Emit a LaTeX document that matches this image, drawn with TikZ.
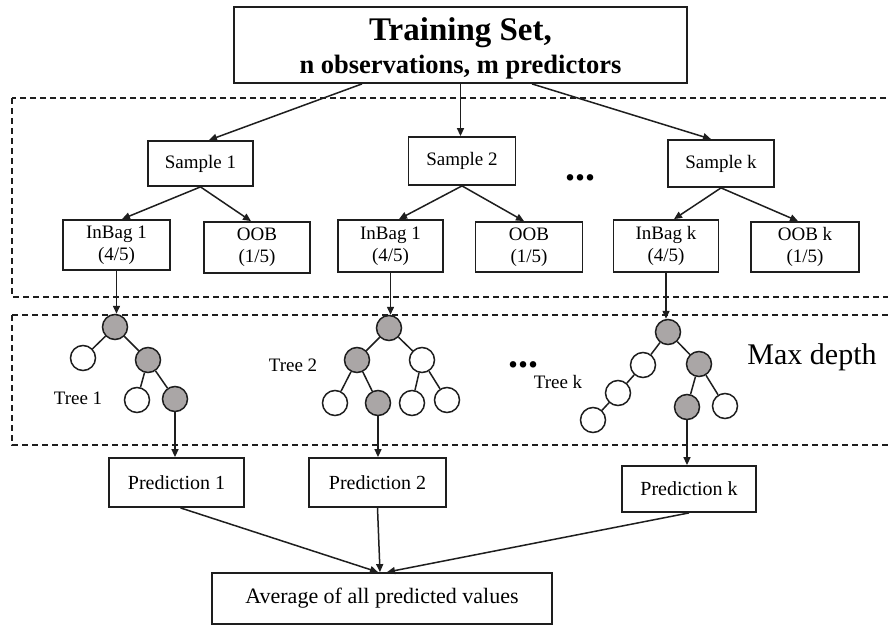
\documentclass[tikz,border=0pt]{standalone}
\usepackage{fontspec}
\setmainfont{Liberation Serif}
\usetikzlibrary{arrows.meta}
\definecolor{nodegray}{RGB}{170,166,166}
\definecolor{ink}{RGB}{30,30,30}
\begin{document}
\begin{tikzpicture}[x=1pt,y=-1pt,
  box/.style={draw=ink, line width=1.8pt, inner sep=0pt, align=center, font=\fontsize{19}{22}\selectfont},
  arr/.style={draw=ink, line width=1.5pt, -{Triangle[length=8pt,width=7pt]}},
  leaf/.style={circle, draw=ink, line width=1.5pt, minimum size=25pt, inner sep=0pt, fill=white},
  inner/.style={leaf, fill=nodegray},
  link/.style={draw=ink, line width=1.5pt},
  region/.style={draw=ink, dash pattern=on 6pt off 4pt, line width=1.5pt},
  lbl/.style={inner sep=0pt, font=\fontsize{19}{22}\selectfont},
  dots/.style={inner sep=0pt, anchor=base, font=\fontsize{40}{40}\selectfont\bfseries}]
\useasboundingbox (0,0) rectangle (888,626);
\fill[white] (0,0) rectangle (888,626);

% dashed regions
\draw[region] (12,98) rectangle (900,297);
\draw[region] (12,315) rectangle (900,445);

% training set
\node[box, minimum width=453pt, minimum height=76pt, font=\fontsize{26.5}{33}\selectfont\bfseries] (train) at (460.5,45)
  {\rule{0pt}{30pt}{\fontsize{33}{33}\selectfont Training Set,}\\n observations, m predictors};

% samples
\node[box, minimum width=105pt, minimum height=45pt] (s1) at (200.5,163.5) {Sample 1};
\node[box, minimum width=107pt, minimum height=48pt] (s2) at (462,161) {Sample 2};
\node[box, minimum width=106pt, minimum height=47pt] (sk) at (721,163.5) {Sample k};
\node[dots] (d1) at (580,180) {...};

% in-bag / oob
\node[box, minimum width=107pt, minimum height=50pt] (ib1) at (116.5,245) {InBag 1\\(4/5)};
\node[box, minimum width=106pt, minimum height=51pt] (oob1) at (257,247.5) {OOB\\(1/5)};
\node[box, minimum width=105pt, minimum height=52pt] (ib2) at (390.5,246) {InBag 1\\(4/5)};
\node[box, minimum width=107pt, minimum height=50pt] (oob2) at (529,247) {OOB\\(1/5)};
\node[box, minimum width=105pt, minimum height=52pt] (ibk) at (666,246) {InBag k\\(4/5)};
\node[box, minimum width=108pt, minimum height=50pt] (oobk) at (805,247) {OOB k\\(1/5)};

% tree 1
\node[inner] (t1r) at (115,327) {};
\node[leaf] (t1a) at (83,358) {};
\node[inner] (t1b) at (148,360) {};
\node[leaf] (t1ba) at (137,400) {};
\node[inner] (t1bb) at (175,399) {};
\draw[link] (t1r) -- (t1a) (t1r) -- (t1b) (t1b) -- (t1ba) (t1b) -- (t1bb);
\node[lbl] (l1) at (78,398) {Tree 1};

% tree 2
\node[inner] (t2r) at (389,328) {};
\node[inner] (t2a) at (357,360) {};
\node[leaf] (t2b) at (422,360) {};
\node[leaf] (t2aa) at (335,403) {};
\node[inner] (t2ab) at (378,403) {};
\node[leaf] (t2ba) at (412,403) {};
\node[leaf] (t2bb) at (447,400) {};
\draw[link] (t2r) -- (t2a) (t2r) -- (t2b) (t2a) -- (t2aa) (t2a) -- (t2ab) (t2b) -- (t2ba) (t2b) -- (t2bb);
\node[lbl] (l2) at (293,365) {Tree 2};

% tree k
\node[inner] (tkr) at (668,332) {};
\node[leaf] (tka) at (643,365) {};
\node[leaf] (tkaa) at (618,393) {};
\node[leaf] (tkaaa) at (593,420) {};
\node[inner] (tkb) at (699,364) {};
\node[inner] (tkba) at (687,407) {};
\node[leaf] (tkbb) at (725,406) {};
\draw[link] (tkr) -- (tka) (tka) -- (tkaa) (tkaa) -- (tkaaa) (tkr) -- (tkb) (tkb) -- (tkba) (tkb) -- (tkbb);
\node[lbl] (lk) at (558,382) {Tree k};
\node[dots] (d2) at (523,367) {...};
\node[inner sep=0pt, font=\fontsize{30}{34}\selectfont] (md) at (812,357) {Max depth};

% predictions
\node[box, font=\fontsize{20}{24}\selectfont, minimum width=135pt, minimum height=49pt] (p1) at (176.5,482.5) {Prediction 1};
\node[box, font=\fontsize{20}{24}\selectfont, minimum width=137pt, minimum height=49pt] (p2) at (377.5,482.5) {Prediction 2};
\node[box, font=\fontsize{20}{24}\selectfont, minimum width=134pt, minimum height=46pt] (pk) at (689,489) {Prediction k};
\node[box, font=\fontsize{22}{26}\selectfont, minimum width=340pt, minimum height=51pt] (avg) at (382,598.5) {Average of all predicted values};

% arrows
\draw[arr] ([xshift=-98.5pt]train.south) -- ([xshift=8.5pt]s1.north);
\draw[arr] (train.south) -- (train.south |- s2.north);
\draw[arr] ([xshift=71.5pt]train.south) -- ([xshift=-10pt]sk.north);

\draw[arr] (s1.south) -- ([xshift=5.5pt]ib1.north);
\draw[arr] (s1.south) -- ([xshift=-6pt]oob1.north);
\draw[arr] (s2.south) -- ([xshift=8.5pt]ib2.north);
\draw[arr] (s2.south) -- ([xshift=-5pt]oob2.north);
\draw[arr] (sk.south) -- ([xshift=8pt]ibk.north);
\draw[arr] (sk.south) -- ([xshift=-7pt]oobk.north);

\draw[arr] (ib1.south) -- (ib1.south |- t1r.north);
\draw[arr] (ib2.south) -- (ib2.south |- t2r.north);
\draw[arr] (ibk.south) -- (ibk.south |- tkr.north);

\draw[arr] (t1bb) -- (t1bb |- p1.north);
\draw[arr] (t2ab) -- (t2ab |- p2.north);
\draw[arr] (tkba) -- (tkba |- pk.north);

\draw[arr] ([xshift=4pt]p1.south) -- ([xshift=-4pt]avg.north);
\draw[arr] (p2.south) -- ([xshift=-2pt]avg.north);
\draw[arr] (pk.south) -- ([xshift=5pt]avg.north);
\end{tikzpicture}
\end{document}
